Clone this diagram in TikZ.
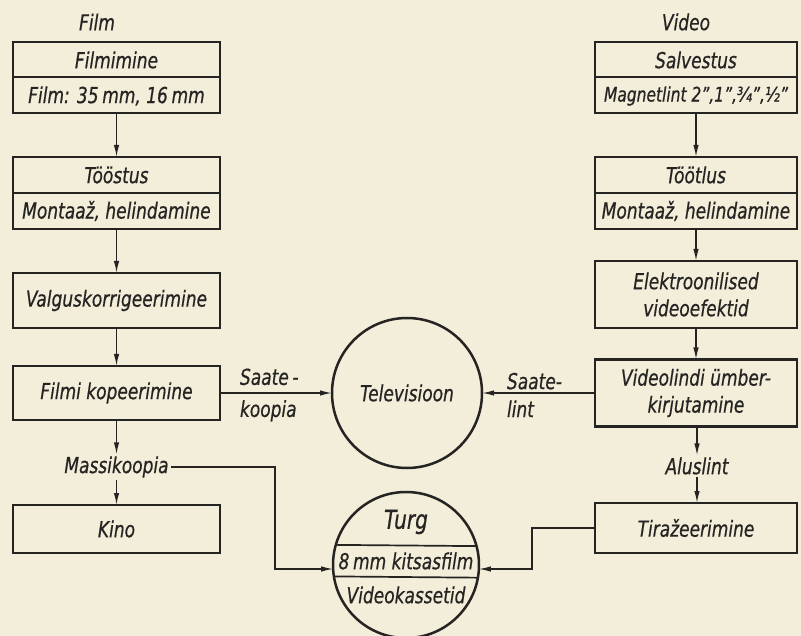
\documentclass[tikz,border=0pt]{standalone}
\usepackage{fontspec}
\setmainfont{DejaVu Sans Condensed}[FakeStretch=0.86, FakeBold=0.6]
\usetikzlibrary{arrows.meta,calc}
\definecolor{paper}{RGB}{242,238,218}
\definecolor{ink}{RGB}{38,36,34}
\begin{document}
\begin{tikzpicture}[x=1pt,y=-1pt,
  every node/.style={font=\fontsize{22}{27}\selectfont\itshape, text=ink, inner sep=0pt, outer sep=0pt},
  box/.style={draw=ink, line width=2.5pt, align=center},
  boxL/.style={box, minimum width=207pt},
  boxR/.style={box, minimum width=202pt},
  circ/.style={draw=ink, line width=2.5pt, circle},
  divline/.style={draw=ink, line width=1.7pt},
  arr/.style={draw=ink, line width=1.4pt, -{Latex[length=12pt,width=5.5pt]}},
  ]
\fill[paper] (0,0) rectangle (801,636);
\useasboundingbox (0,0) rectangle (801,636);

% ---------- Film column ----------
\node (film) at (97,22) {Film};
\node[boxL, minimum height=71pt] (l1) at (116.5,77.5) {};
\draw[divline] (l1.west |- 0,77) -- (l1.east |- 0,77);
\node (l1a) at (116.5,60) {Filmimine};
\node (l1b) at (116.5,96) {Film: 35\,mm, 16\,mm};

\node[boxL, minimum height=72pt] (l2) at (116.5,193) {};
\draw[divline] (l2.west) -- (l2.east);
\node (l2a) at (116.5,175) {Tööstus};
\node (l2b) at (116.5,211) {Montaaž, helindamine};

\node[boxL, minimum height=55pt] (l3) at (116.5,300.5) {Valguskorrigeerimine};
\node[boxL, minimum height=54pt] (l4) at (116.5,393) {Filmi kopeerimine};
\node (mk) at (116.5,467) {Massikoopia};
\node[boxL, minimum height=48pt] (l5) at (116.5,529) {Kino};

\draw[arr] (l1) -- (l2);
\draw[arr] (l2) -- (l3);
\draw[arr] (l3) -- (l4);
\draw[arr] (l4.south) -- ([yshift=2pt]mk.north);
\draw[arr] ([yshift=-2pt]mk.south) -- (l5.north);

% ---------- Video column ----------
\node (video) at (686,22) {Video};
\node[boxR, minimum height=71pt] (r1) at (696,77.5) {};
\draw[divline] (r1.west |- 0,77) -- (r1.east |- 0,77);
\node (r1a) at (696,60) {Salvestus};
\node[font=\fontsize{20}{24}\selectfont\itshape] (r1b) at (696,96) {Magnetlint 2",1",¾",½"};

\node[boxR, minimum height=72pt] (r2) at (696,193) {};
\draw[divline] (r2.west) -- (r2.east);
\node (r2a) at (696,175) {Töötlus};
\node (r2b) at (696,211) {Montaaž, helindamine};

\node[boxR, minimum height=67pt] (r3) at (696,294.5) {Elektroonilised\\videoefektid};
\node[boxR, minimum height=67pt] (r4) at (696,393) {Videolindi ümber-\\kirjutamine};
\node (al) at (697,466) {Aluslint};
\node[boxR, minimum height=50pt] (r5) at (696,528) {Tiražeerimine};

\draw[arr] (r1) -- (r2);
\draw[arr] (r2) -- (r3);
\draw[arr] (r3) -- (r4);
\draw[arr] (r4.south -| al) -- ([yshift=2pt]al.north);
\draw[arr] ([yshift=-2pt]al.south) -- (r5.north -| al);

% ---------- Circles ----------
\node[circ, minimum size=150pt] (tv) at (407,393) {Televisioon};
\node[circ, minimum size=146pt] (turg) at (406,565) {};
\draw[divline] (turg.164.1) -- (turg.15.9);
\draw[divline] (turg.189.46) -- (turg.350.54);
\node[font=\fontsize{26}{28}\selectfont\itshape] (turga) at (406,522) {Turg};
\node (turgb) at (406,561) {8\,mm kitsasfilm};
\node (turgc) at (406,595) {Videokassetid};

% ---------- Cross connectors ----------
\draw[arr] (l4.east) -- (tv.west);
\node[align=left, anchor=west] (sk) at (240,395) {Saate\,-\\[5pt]koopia};
\draw[arr] (r4.west) -- (tv.east);
\node[align=left, anchor=west] (sl) at (507,395) {Saate-\\[1pt]lint};

\coordinate (mkc) at (275,569);
\draw[arr] ([xshift=2pt]mk.east) -| (mkc) -- (mkc -| turg.184);
\coordinate (tzc) at (532,569);
\draw[arr] (r5.west) -| (tzc) -- (tzc -| turg.356);
\end{tikzpicture}
\end{document}
